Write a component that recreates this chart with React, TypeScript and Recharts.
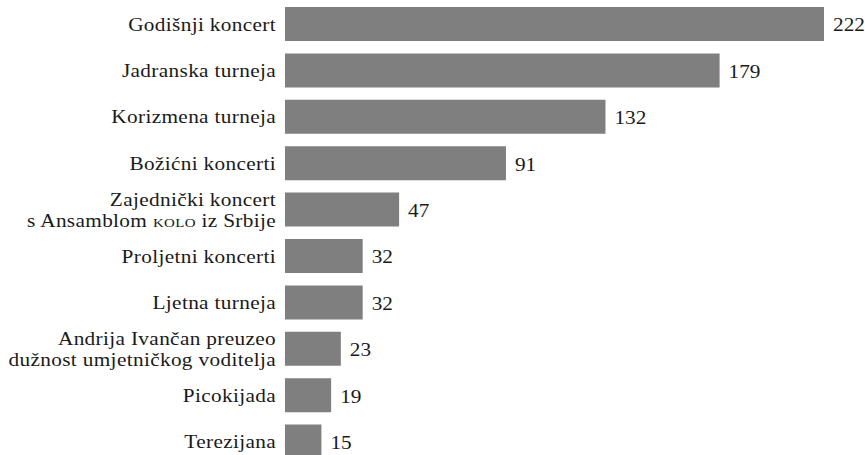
import React from "react"
import { BarChart, Bar, XAxis, YAxis, LabelList } from "recharts"

const categories = [
  "Godišnji koncert",
  "Jadranska turneja",
  "Korizmena turneja",
  "Božićni koncerti",
  "Zajednički koncert\ns Ansamblom KOLO iz Srbije",
  "Proljetni koncerti",
  "Ljetna turneja",
  "Andrija Ivančan preuzeo\ndužnost umjetničkog voditelja",
  "Picokijada",
  "Terezijana",
]

const counts = [222, 179, 132, 91, 47, 32, 32, 23, 19, 15]

const data = categories.map((name, i) => ({ name, value: counts[i] }))

const FONT = "Liberation Serif, serif"
const TEXT = "#1a1a1a"
const FS = 18.5
// the original face is much wider than Times, so stretch it a bit
const STRETCH = 1.15

// renders a line, putting "KOLO" in small caps like the original
function renderLine(line: string) {
  const parts = line.split("KOLO")
  if (parts.length === 1) return line
  return (
    <>
      {parts[0]}
      <tspan style={{ fontVariant: "small-caps" }}>kolo</tspan>
      {parts[1]}
    </>
  )
}

function CategoryTick(props: any) {
  const { x, y, payload } = props
  const lines = String(payload.value).split("\n")
  const lh = 21.5
  const start = y - ((lines.length - 1) * lh) / 2
  return (
    <g>
      {lines.map((line, i) => (
        <text
          key={i}
          transform={`translate(${x} ${start + i * lh}) scale(${STRETCH} 1)`}
          x={0}
          y={0}
          dy="0.35em"
          textAnchor="end"
          fontFamily={FONT}
          fontSize={FS}
          letterSpacing={0.3}
          fill={TEXT}
        >
          {renderLine(line)}
        </text>
      ))}
    </g>
  )
}

function ValueLabel(props: any) {
  const { x, y, width, height, value } = props
  return (
    <text
      transform={`translate(${x + width + 9} ${y + height / 2 + 1}) scale(${STRETCH} 1)`}
      x={0}
      y={0}
      dy="0.35em"
      fontFamily={FONT}
      fontSize={FS}
      fill={TEXT}
    >
      {value}
    </text>
  )
}

export default function App() {
  return (
    <div style={{ position: "absolute", left: 0, top: 0, background: "#fff" }}>
      <BarChart
        width={865}
        height={465}
        data={data}
        layout="vertical"
        margin={{ top: 1, right: 41, bottom: 0, left: 0 }}
        barSize={34}
      >
        <XAxis type="number" domain={[0, 222]} hide />
        <YAxis
          type="category"
          dataKey="name"
          width={285}
          axisLine={false}
          tickLine={false}
          tickMargin={3}
          tick={<CategoryTick />}
          interval={0}
        />
        <Bar dataKey="value" fill="#7f7f7f" isAnimationActive={false}>
          <LabelList dataKey="value" content={<ValueLabel />} />
        </Bar>
      </BarChart>
    </div>
  )
}
